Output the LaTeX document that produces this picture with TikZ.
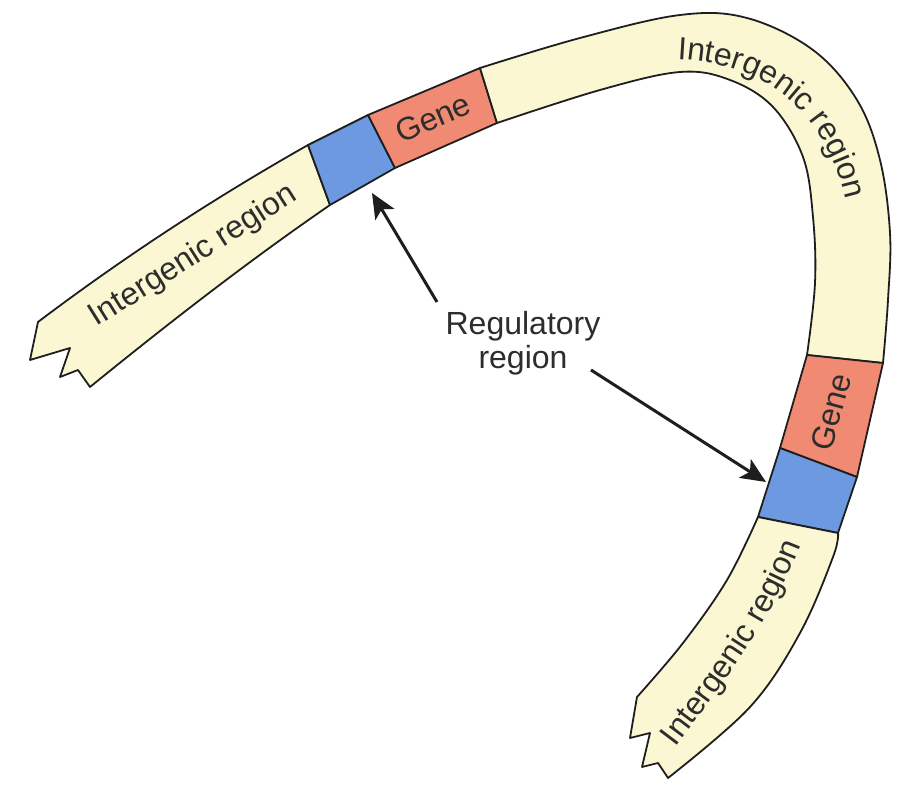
\documentclass[tikz,border=0pt]{standalone}
\usepackage{fontspec}
\setmainfont{Liberation Sans}
\usetikzlibrary{decorations.text,arrows.meta}
\newcommand\lblfont{\fontsize{32}{34}\selectfont}
\definecolor{cream}{RGB}{250,247,210}
\definecolor{genec}{RGB}{240,138,115}
\definecolor{regc}{RGB}{108,153,224}
\definecolor{txt}{RGB}{45,45,45}
\definecolor{edge}{RGB}{30,30,30}
\begin{document}
\begin{tikzpicture}[x=1pt,y=-1pt,
  seg/.style={draw=edge, line width=1.8pt, line join=round},
  lbl/.style={font=\lblfont, text=txt, inner sep=0pt},
  arr/.style={draw=edge, line width=3pt, -{Stealth[length=25pt,width=22pt,inset=6pt]}},
  curvtext/.style={decorate, decoration={text along path, text align=center, text color=txt, text={|\lblfont|Intergenic region}}}]
\useasboundingbox (0,0) rectangle (900,789);
\fill[white] (0,0) rectangle (900,789);
% left intergenic region
\draw[seg, fill=cream] (38,322) -- (30,360) -- (70,348) -- (60,377) -- (78,370) -- (90,387)
  .. controls (170,322) and (250,260) .. (330,205) -- (308,145)
  .. controls (218,196) and (128,254) .. (38,322) -- cycle;
% first regulatory region and gene
\draw[seg, fill=regc] (308,145) -- (368,115) -- (395,168) -- (330,205) -- cycle;
\draw[seg, fill=genec] (368,115) -- (480,68) -- (497,123) -- (395,168) -- cycle;
% upper intergenic region
\draw[seg, fill=cream] plot[smooth, tension=0.6] coordinates {(480,68) (580,38) (680,15) (747,18) (813,50) (857,100) (880,160) (890,233) (888,300) (883,363)}
  -- (807,355) -- plot[smooth, tension=0.6] coordinates {(807,355) (815,283) (813,217) (803,157) (773,107) (730,80) (680,72) (600,90) (497,123)} -- cycle;
% second gene and regulatory region
\draw[seg, fill=genec] (807,355) -- (883,363) -- (857,477) -- (780,448) -- cycle;
\draw[seg, fill=regc] (780,448) -- (857,477) -- (838,533) -- (758,517) -- cycle;
% lower intergenic region
\draw[seg, fill=cream] plot[smooth, tension=0.6] coordinates {(758,517) (727,580) (683,643) (637,697)}
  -- (630,738) -- (650,733) -- (642,767) -- (658,763) -- (668,778)
  -- plot[smooth, tension=0.6] coordinates {(668,778) (750,707) (800,633) (833,557) (838,533)} -- cycle;
% labels
\node[lbl, rotate=23] (g1) at (433,118) {Gene};
\node[lbl, rotate=75] (g2) at (831,412) {Gene};
\node[lbl, align=center] (reg) at (523,343) {Regulatory\\[0pt]region};
\path[curvtext] (60,350) .. controls (160,288) and (240,236) .. (335,176);
\path[curvtext] (640,60) .. controls (760,50) and (840,110) .. (851,237);
\path[curvtext] (655,775) .. controls (710,700) and (780,620) .. (812,512);
% arrows
\coordinate (a1s) at (437,302);
\coordinate (a1e) at (372,193);
\coordinate (a2s) at (591,370);
\coordinate (a2e) at (766,482);
\draw[arr] (a1s) -- (a1e);
\draw[arr] (a2s) -- (a2e);
\end{tikzpicture}
\end{document}
